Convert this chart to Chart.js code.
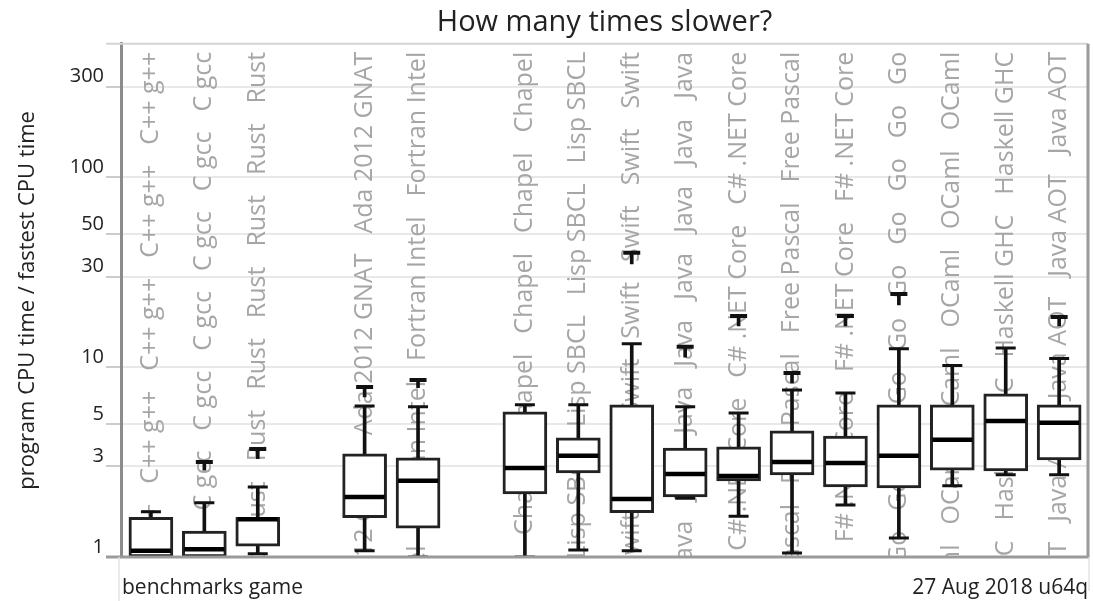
<!DOCTYPE html>
<html>
<head>
<meta charset="utf-8">
<title>How many times slower?</title>
<script src="https://cdn.jsdelivr.net/npm/chart.js@4.4.0/dist/chart.umd.min.js"></script>
<style>
  html, body { margin: 0; padding: 0; background: #fff; }
</style>
</head>
<body>
<canvas id="slower" width="1093" height="601"></canvas>
<script>
// languages in plot order, "" leaves an empty slot between the groups
const languages = ["C++ g++", "C gcc", "Rust", "", "Ada 2012 GNAT", "Fortran Intel", "",
  "Chapel", "Lisp SBCL", "Swift", "Java", "C# .NET Core", "Free Pascal", "F# .NET Core",
  "Go", "OCaml", "Haskell GHC", "Java AOT"];

// box plot summary per language (times slower than fastest)
const whiskerLow  = [1.00, 1.00, 1.04, null, 1.08, 1.00, null, 1.00, 1.09, 1.08, 2.04, 1.64, 1.05, 1.88, 1.26, 2.37, 2.71, 2.71];
const quartile1   = [1.00, 1.00, 1.14, null, 1.61, 1.42, null, 2.15, 2.77, 1.71, 2.07, 2.52, 2.71, 2.34, 2.31, 2.87, 2.84, 3.25];
const medians     = [1.08, 1.10, 1.58, null, 2.07, 2.52, null, 2.94, 3.41, 2.02, 2.74, 2.67, 3.17, 3.13, 3.41, 4.14, 5.21, 5.09];
const quartile3   = [1.62, 1.37, 1.62, null, 3.49, 3.33, null, 5.81, 4.24, 6.33, 3.75, 3.80, 4.62, 4.34, 6.33, 6.33, 7.23, 6.33];
const whiskerHigh = [1.73, 1.93, 2.34, null, 6.25, 6.18, null, 6.33, 6.33, 13.3, 6.18, 5.74, 7.59, 7.32, 12.5, 10.2, 12.6, 11.1];

// outliers above the upper whisker
const outlierHigh = [null, 3.17, 3.71, null, 7.87, 8.57, null, null, null, 40.1, 12.8, 18.6, 9.33, 18.6, 24.3, null, null, 18.4];
const outlierLow  = [null, 2.87, 3.30, null, 6.97, 7.80, null, null, null, 35.0, 11.3, 16.5, 8.26, 16.5, 21.3, null, null, 16.5];

const yTicks = [1, 3, 5, 10, 30, 50, 100, 300];

const slots = languages.map((name, i) => i).filter(i => languages[i] !== "");
const rangeData = (lo, hi) => slots.filter(i => lo[i] != null).map(i => ({ x: i, y: [lo[i], hi[i]] }));
const pointData = (arr) => slots.filter(i => arr[i] != null).map(i => ({ x: i, y: arr[i] }));

Chart.defaults.font.family = '"Open Sans", sans-serif';
Chart.defaults.color = '#222';

// grey language names running up each column, frame and footer
const decorations = {
  id: 'decorations',
  beforeDatasetsDraw(chart) {
    const { ctx, chartArea: a, scales: { x } } = chart;
    ctx.save();
    ctx.beginPath();
    ctx.rect(a.left, a.top, a.right - a.left, a.bottom - a.top);
    ctx.clip();
    ctx.font = '25px "Open Sans"';
    ctx.fillStyle = '#a6a6a6';
    ctx.textAlign = 'right';
    ctx.textBaseline = 'middle';
    languages.forEach((name, i) => {
      if (!name) return;
      const step = ctx.measureText(name).width + 20;
      ctx.save();
      ctx.translate(x.getPixelForValue(i), a.top + 8);
      ctx.rotate(-Math.PI / 2);
      for (let k = 0; k * step < a.bottom - a.top; k++) {
        ctx.fillText(name, -k * step, 0);
      }
      ctx.restore();
    });
    ctx.restore();
  },
  afterDraw(chart) {
    const { ctx, chartArea: a } = chart;
    ctx.save();
    // top edge
    ctx.strokeStyle = '#d4d4d4';
    ctx.lineWidth = 2;
    ctx.beginPath();
    ctx.moveTo(a.left - 15, a.top);
    ctx.lineTo(a.right, a.top);
    ctx.stroke();
    // right and bottom edges
    ctx.strokeStyle = '#9a9a9a';
    ctx.lineWidth = 3;
    ctx.beginPath();
    ctx.moveTo(a.right, a.top);
    ctx.lineTo(a.right, a.bottom);
    ctx.moveTo(a.left - 15, a.bottom);
    ctx.lineTo(a.right + 1.5, a.bottom);
    ctx.stroke();
    // footer side rules
    ctx.strokeStyle = '#e2e2e2';
    ctx.lineWidth = 1.5;
    ctx.beginPath();
    ctx.moveTo(a.left - 2, a.bottom);
    ctx.lineTo(a.left - 2, chart.height);
    ctx.moveTo(a.right + 1, a.bottom);
    ctx.lineTo(a.right + 1, a.bottom + 34);
    ctx.stroke();
    // footer
    ctx.font = '21px "Open Sans"';
    ctx.fillStyle = '#222';
    ctx.textBaseline = 'middle';
    ctx.textAlign = 'left';
    ctx.fillText('benchmarks game', a.left + 1, 588);
    ctx.textAlign = 'right';
    ctx.fillText('27 Aug 2018 u64q', a.right, 588);
    ctx.restore();
  }
};

new Chart(document.getElementById('slower'), {
  type: 'bar',
  data: {
    datasets: [
      {
        label: 'whiskers',
        data: rangeData(whiskerLow, whiskerHigh),
        backgroundColor: '#111',
        barThickness: 3,
        grouped: false,
        order: 6
      },
      {
        label: 'outlier range',
        data: rangeData(outlierLow, outlierHigh),
        backgroundColor: '#111',
        barThickness: 3,
        grouped: false,
        order: 6
      },
      {
        label: 'boxes',
        data: rangeData(quartile1, quartile3),
        backgroundColor: '#fff',
        borderColor: '#222',
        borderWidth: 3,
        borderSkipped: false,
        barThickness: 44,
        grouped: false,
        order: 4
      },
      {
        type: 'scatter',
        label: 'caps',
        data: pointData(whiskerHigh).concat(pointData(whiskerLow)),
        showLine: false,
        pointStyle: 'line',
        pointRadius: 10,
        pointHoverRadius: 10,
        pointBorderWidth: 3,
        pointBorderColor: '#111',
        order: 2
      },
      {
        type: 'scatter',
        label: 'outliers',
        data: pointData(outlierHigh),
        showLine: false,
        pointStyle: 'line',
        pointRadius: 8.5,
        pointHoverRadius: 8.5,
        pointBorderWidth: 4,
        pointBorderColor: '#111',
        order: 2
      },
      {
        type: 'scatter',
        label: 'medians',
        data: pointData(medians),
        showLine: false,
        pointStyle: 'line',
        pointRadius: 20,
        pointHoverRadius: 20,
        pointBorderWidth: 4.5,
        pointBorderColor: '#000',
        order: 1
      }
    ]
  },
  options: {
    responsive: false,
    devicePixelRatio: 1,
    animation: false,
    events: [],
    layout: { autoPadding: false, padding: { left: 0, right: 5, top: 0, bottom: 44 } },
    plugins: {
      legend: { display: false },
      tooltip: { enabled: false },
      title: {
        display: true,
        fullSize: false,
        text: 'How many times slower?',
        color: '#222',
        font: { size: 29, weight: 'normal' },
        padding: { top: 5, bottom: 4 }
      }
    },
    scales: {
      x: {
        type: 'linear',
        min: -0.56,
        max: 17.54,
        offset: false,
        display: false
      },
      y: {
        type: 'logarithmic',
        min: 1,
        max: 505,
        afterFit(scale) { scale.width = 121; },
        afterBuildTicks(scale) { scale.ticks = yTicks.map(v => ({ value: v })); },
        ticks: {
          callback: v => String(v),
          color: '#222',
          font: { size: 20 },
          padding: 2,
          labelOffset: -10
        },
        grid: {
          color: '#e8e8e8',
          lineWidth: 2,
          tickColor: '#cccccc',
          tickLength: 15
        },
        border: { color: '#8c8c8c', width: 3 },
        title: {
          display: true,
          text: 'program CPU time / fastest CPU time',
          color: '#222',
          font: { size: 22 },
          padding: { top: 15, bottom: 0 }
        }
      }
    }
  },
  plugins: [decorations]
});
</script>
</body>
</html>
